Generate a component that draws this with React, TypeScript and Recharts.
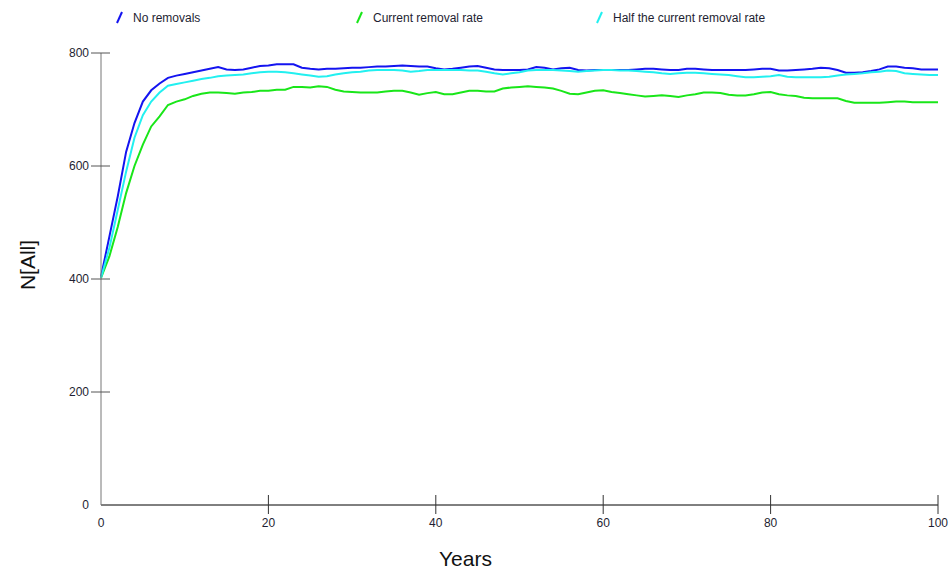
import React from 'react';
import { LineChart, Line, XAxis, YAxis, Label } from 'recharts';

const seriesNames = ['No removals', 'Current removal rate', 'Half the current removal rate'];
const seriesColors = ['#1414f0', '#19e619', '#22f0f0'];

const years = Array.from({ length: 101 }, (_, i) => i);

const noRemovals = [
  404, 475, 546, 625, 676, 714, 734, 746, 756, 760,
  763, 766, 769, 772, 775, 771, 770, 771, 774, 777,
  778, 780, 780, 780, 774, 772, 771, 772, 772, 773,
  774, 774, 775, 776, 776, 777, 778, 777, 776, 776,
  773, 771, 772, 774, 776, 777, 774, 771, 770, 770,
  770, 771, 775, 774, 771, 773, 774, 770, 769, 770,
  770, 770, 770, 770, 771, 772, 772, 771, 770, 770,
  772, 772, 771, 770, 770, 770, 770, 770, 771, 772,
  772, 769, 769, 770, 771, 772, 774, 773, 770, 765,
  765, 766, 768, 771, 776, 776, 774, 773, 771, 771,
  771,
];

const currentRate = [
  402, 440, 492, 552, 600, 638, 670, 688, 708, 714,
  718, 724, 728, 730, 730, 729, 728, 730, 731, 733,
  733, 735, 735, 740, 740, 739, 741, 740, 735, 732,
  731, 730, 730, 730, 732, 733, 733, 730, 726, 729,
  731, 727, 727, 730, 733, 733, 732, 732, 737, 739,
  740, 741, 740, 739, 737, 733, 728, 727, 730, 733,
  734, 731, 729, 727, 725, 723, 724, 725, 724, 722,
  725, 727, 730, 730, 729, 726, 725, 725, 727, 730,
  731, 727, 725, 724, 721, 720, 720, 720, 720, 715,
  712, 712, 712, 712, 713, 714, 714, 713, 713, 713,
  713,
];

const halfRate = [
  402, 455, 522, 590, 650, 690, 714, 730, 742, 745,
  748, 751, 754, 756, 759, 760, 761, 762, 764, 766,
  767, 767, 766, 764, 762, 760, 758, 759, 762, 764,
  766, 767, 769, 770, 770, 770, 769, 767, 768, 770,
  770, 770, 770, 770, 769, 769, 767, 764, 762, 764,
  766, 769, 770, 770, 770, 769, 768, 767, 768, 769,
  770, 770, 769, 769, 768, 767, 766, 764, 763, 764,
  765, 765, 764, 763, 762, 761, 759, 757, 757, 758,
  759, 761, 758, 757, 757, 757, 757, 758, 760, 762,
  763, 764, 766, 767, 769, 768, 764, 763, 762, 761,
  761,
];

const xTicks = [0, 20, 40, 60, 80, 100];
const yTicks = [0, 200, 400, 600, 800];

const data = years.map((y, i) => ({
  year: y,
  noRemovals: noRemovals[i],
  currentRate: currentRate[i],
  halfRate: halfRate[i],
}));

const FONT = '"Liberation Sans", Arial, sans-serif';
const TEXT_COLOR = '#1e1e32';

const YTick = (props: any) => {
  const { x, y, payload } = props;
  const ax = x + 12;
  return (
    <g>
      {payload.value !== 0 && (
        <line x1={ax - 10} x2={ax + 9} y1={y} y2={y} stroke="#555" strokeWidth={1} />
      )}
      <text x={x} y={y} dy={4} textAnchor="end" fontSize={12} fontFamily={FONT} fill={TEXT_COLOR}>
        {payload.value}
      </text>
    </g>
  );
};

const XTick = (props: any) => {
  const { x, y, payload } = props;
  const ay = y - 12;
  return (
    <g>
      {payload.value !== 0 && (
        <line x1={x} x2={x} y1={ay - 10} y2={ay + 9} stroke="#333" strokeWidth={1} />
      )}
      <text x={x} y={ay + 22} textAnchor="middle" fontSize={12} fontFamily={FONT} fill={TEXT_COLOR}>
        {payload.value}
      </text>
    </g>
  );
};

const YTitle = (props: any) => {
  const { viewBox } = props;
  const cx = viewBox.x + 35;
  const cy = viewBox.y + viewBox.height / 2 - 14;
  return (
    <text x={cx} y={cy} transform={`rotate(-90, ${cx}, ${cy})`} textAnchor="middle" fontSize={21} fontFamily={FONT} fill="#111">
      N[All]
    </text>
  );
};

const XTitle = (props: any) => {
  const { viewBox } = props;
  const cx = viewBox.x + viewBox.width / 2 - 54;
  const cy = viewBox.y + 61;
  return (
    <text x={cx} y={cy} textAnchor="middle" fontSize={21} fontFamily={FONT} fill="#111">
      Years
    </text>
  );
};

const LegendOverlay = () => (
  <div style={{ position: 'absolute', left: 0, top: 0, width: 952, height: 36, pointerEvents: 'none' }}>
    <svg width={952} height={36}>
      {seriesNames.map((name, i) => {
        const bx = 117 + i * 240;
        return (
          <g key={name}>
            <line x1={bx} y1={23} x2={bx + 5} y2={12} stroke={seriesColors[i]} strokeWidth={2} />
            <text x={bx + 16} y={22} fontSize={12} fontFamily={FONT} fill={TEXT_COLOR}>
              {name}
            </text>
          </g>
        );
      })}
    </svg>
  </div>
);

export default function App() {
  return (
    <div style={{ position: 'absolute', left: 0, top: 0, width: 952, height: 571, background: '#fff' }}>
      <LineChart width={952} height={571} data={data} margin={{ top: 53, right: 14, left: 0, bottom: 0 }}>
        <XAxis
          dataKey="year"
          type="number"
          domain={[0, 100]}
          ticks={xTicks}
          height={66}
          stroke="#000"
          tickSize={9}
          tickMargin={3}
          tickLine={false}
          tick={<XTick />}
          interval={0}
        >
          <Label content={<XTitle />} />
        </XAxis>
        <YAxis
          type="number"
          domain={[0, 800]}
          ticks={yTicks}
          width={101}
          stroke="#777"
          tickSize={9}
          tickMargin={3}
          tickLine={false}
          tick={<YTick />}
          interval={0}
        >
          <Label content={<YTitle />} />
        </YAxis>
        <Line type="linear" dataKey="noRemovals" name={seriesNames[0]} stroke={seriesColors[0]} strokeWidth={2} dot={false} isAnimationActive={false} />
        <Line type="linear" dataKey="currentRate" name={seriesNames[1]} stroke={seriesColors[1]} strokeWidth={2} dot={false} isAnimationActive={false} />
        <Line type="linear" dataKey="halfRate" name={seriesNames[2]} stroke={seriesColors[2]} strokeWidth={2} dot={false} isAnimationActive={false} />
      </LineChart>
      <LegendOverlay />
    </div>
  );
}
